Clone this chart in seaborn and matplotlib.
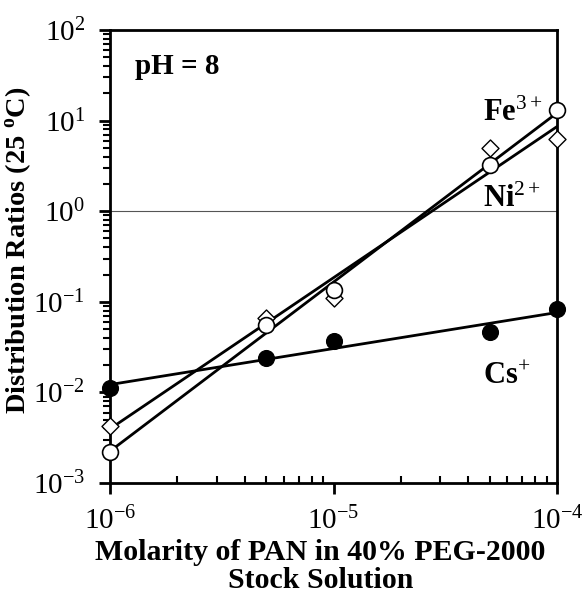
import numpy as np
import pandas as pd
import matplotlib
matplotlib.use("Agg")
import matplotlib.pyplot as plt
import seaborn as sns
from matplotlib.ticker import LogLocator, NullFormatter

# datos
molaridad = [1e-6, 5e-6, 1e-5, 5e-5, 1e-4]
d_fe = [2.2e-3, 0.055, 0.135, 3.2, 13.0]
d_ni = [4.3e-3, 0.066, 0.11, 5.0, 6.3]
d_cs = [0.0112, 0.024, 0.037, 0.046, 0.083]

sns.set_style("ticks")
plt.rcParams['font.family'] = ['Liberation Serif', 'DejaVu Serif']
plt.rcParams['mathtext.fontset'] = 'custom'
plt.rcParams['mathtext.rm'] = 'Liberation Serif'
plt.rcParams['mathtext.it'] = 'Liberation Serif:italic'
plt.rcParams['mathtext.bf'] = 'Liberation Serif:bold'
for k in ['text.color', 'axes.labelcolor', 'xtick.color', 'ytick.color']:
    plt.rcParams[k] = 'black'

fig = plt.figure(figsize=(5.83, 5.95), dpi=100)
ax = fig.add_axes([0.1887, 0.1882, 0.7667, 0.7614])

df = pd.DataFrame({'x': molaridad, 'Fe': d_fe, 'Ni': d_ni, 'Cs': d_cs})


def ajuste(x, y):
    """Recta de ajuste en escala log-log"""
    p = np.polyfit(np.log10(x), np.log10(y), 1)
    xs = np.array([min(x), max(x)])
    return pd.DataFrame({'x': xs, 'y': 10 ** np.polyval(p, np.log10(xs))})


ax.set_xscale('log')
ax.set_yscale('log')

ax.axhline(1.0, color='#555555', lw=0.8, zorder=1)

for col in ['Fe', 'Ni', 'Cs']:
    linea = ajuste(df['x'], df[col])
    sns.lineplot(data=linea, x='x', y='y', ax=ax, color='black', lw=2.0, zorder=2)

sns.scatterplot(data=df, x='x', y='Ni', ax=ax, marker='D', s=75, facecolor='white',
                edgecolor='black', linewidth=1.0, zorder=3, clip_on=False)
sns.scatterplot(data=df, x='x', y='Fe', ax=ax, marker='o', s=130, facecolor='white',
                edgecolor='black', linewidth=1.2, zorder=4, clip_on=False)
sns.scatterplot(data=df, x='x', y='Cs', ax=ax, marker='o', s=130, color='black',
                edgecolor='black', zorder=4, clip_on=False)

ax.set_xlim(1e-6, 1e-4)
ax.set_ylim(1e-3, 1e2)

for s in ax.spines.values():
    s.set_linewidth(2.0)
    s.set_color('black')

ax.xaxis.set_minor_locator(LogLocator(base=10, subs=np.arange(2, 10)))
ax.xaxis.set_minor_formatter(NullFormatter())
ax.yaxis.set_minor_locator(LogLocator(base=10, subs=np.arange(2, 10)))
ax.yaxis.set_minor_formatter(NullFormatter())

ax.tick_params(axis='x', which='major', direction='out', length=8, width=2,
               labelsize=21, pad=9)
ax.tick_params(axis='x', which='minor', direction='in', length=5, width=1.5)
ax.tick_params(axis='y', which='major', direction='out', length=8, width=2,
               labelsize=21, pad=10)
ax.tick_params(axis='y', which='minor', direction='out', length=5, width=1.5)

ax.set_xlabel('Molarity of PAN in 40% PEG-2000\nStock Solution',
              fontsize=21.5, fontweight='bold', linespacing=1.08)
ax.xaxis.set_label_coords(0.471, -0.184, transform=ax.transAxes)
ax.xaxis.label.set_verticalalignment('center')
ax.set_ylabel('Distribution Ratios (25 $^{\\mathbf{o}}$C)', fontsize=20.5,
              fontweight='bold')
ax.yaxis.set_label_coords(-0.172, 0.514)

ax.text(0.055, 0.92, 'pH = 8', transform=ax.transAxes, fontsize=21,
        fontweight='bold', va='center', ha='left')
ax.text(0.835, 0.815, 'Fe$^{3+}$', transform=ax.transAxes, fontsize=22,
        fontweight='bold', va='center', ha='left')
ax.text(0.835, 0.625, 'Ni$^{2+}$', transform=ax.transAxes, fontsize=22,
        fontweight='bold', va='center', ha='left')
ax.text(0.835, 0.235, 'Cs$^{+}$', transform=ax.transAxes, fontsize=22,
        fontweight='bold', va='center', ha='left')

fig.savefig('out.png', dpi=100)
